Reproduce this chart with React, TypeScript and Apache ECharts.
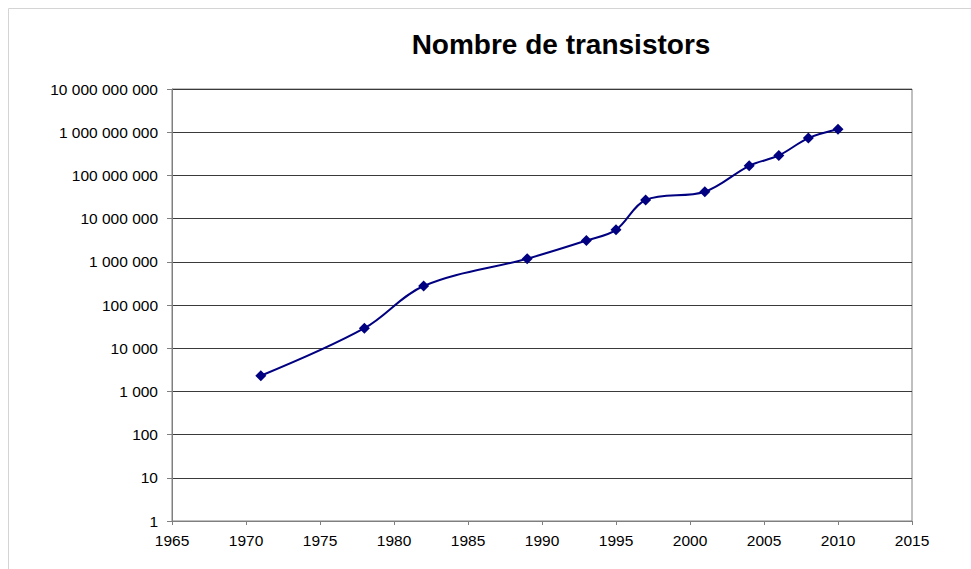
import React, { useEffect, useRef } from "react";
import * as echarts from "echarts";

const title = "Nombre de transistors";
const years = [1971, 1978, 1982, 1989, 1993, 1995, 1997, 2001, 2004, 2006, 2008, 2010];
const transistors = [
  2300, 29000, 275000, 1180000, 3100000, 5500000, 27000000, 42000000, 167000000,
  290000000, 731000000, 1170000000,
];
const xMin = 1965;
const xMax = 2015;
const xStep = 5;
const yMin = 1;
const yMax = 10000000000;

const FONT = "'Liberation Sans', Arial, Helvetica, sans-serif";

function fmtThousands(v: number): string {
  const n = Math.round(v);
  return String(n).replace(/\B(?=(\d{3})+(?!\d))/g, " ");
}

export default function App() {
  const ref = useRef<HTMLDivElement>(null);
  useEffect(() => {
    if (!ref.current) return;
    const chart = echarts.init(ref.current, undefined, { renderer: "svg" });
    chart.setOption({
      animation: false,
      backgroundColor: "#ffffff",
      textStyle: { fontFamily: FONT },
      graphic: [
        {
          type: "rect",
          shape: { x: 8.5, y: 8.5, width: 1200, height: 1200 },
          style: { fill: "none", stroke: "#d4d4d4", lineWidth: 1 },
          silent: true,
        },
        {
          type: "text",
          x: 561,
          y: 44,
          style: {
            text: title,
            fontFamily: FONT,
            fontSize: 28,
            fontWeight: "bold",
            fill: "#000000",
            align: "center",
            verticalAlign: "middle",
          },
        },
      ],
      grid: {
        left: 172,
        right: 59,
        top: 89,
        bottom: 48,
        show: true,
        borderColor: "#808080",
        borderWidth: 1,
        backgroundColor: "transparent",
      },
      xAxis: {
        type: "value",
        min: xMin,
        max: xMax,
        interval: xStep,
        axisLine: { show: true, onZero: false, lineStyle: { color: "#7f7f7f", width: 1 } },
        axisTick: { show: true, inside: false, length: 4, lineStyle: { color: "#7f7f7f" } },
        axisLabel: {
          color: "#000000",
          fontSize: 15.5,
          fontFamily: FONT,
          margin: 11,
          formatter: (v: number) => String(Math.round(v)),
        },
        splitLine: { show: false },
      },
      yAxis: {
        type: "log",
        logBase: 10,
        min: yMin,
        max: yMax,
        interval: 1,
        axisLine: { show: true, lineStyle: { color: "#7f7f7f", width: 1 } },
        axisTick: { show: true, inside: false, length: 5, lineStyle: { color: "#7f7f7f" } },
        axisLabel: {
          color: "#000000",
          fontSize: 15.5,
          fontFamily: FONT,
          margin: 14,
          formatter: (v: number) => fmtThousands(v),
        },
        splitLine: { show: true, lineStyle: { color: "#3a3a3a", width: 1 } },
        minorTick: { show: false },
      },
      series: [
        {
          type: "line",
          data: years.map((y, i) => [y, transistors[i]]),
          smooth: 0.35,
          symbol: "diamond",
          symbolSize: 11,
          showSymbol: true,
          lineStyle: { color: "#000080", width: 2 },
          itemStyle: { color: "#000080" },
        },
      ],
    });
    return () => chart.dispose();
  }, []);
  return (
    <div
      ref={ref}
      style={{ position: "fixed", left: 0, top: 0, width: 971, height: 569, background: "#fff" }}
    />
  );
}
